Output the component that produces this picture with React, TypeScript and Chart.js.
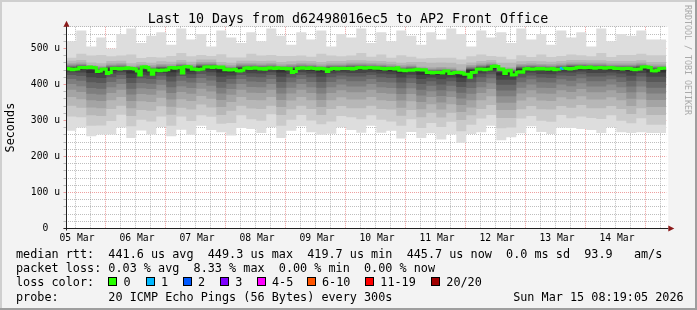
import React, { useEffect, useRef } from "react";
import { Chart, registerables } from "chart.js";

Chart.register(...registerables);

// ---------- text ----------
const titleText = "Last 10 Days from d62498016ec5 to AP2 Front Office";
const yAxisTitle = "Seconds";
const creditText = "RRDTOOL / TOBI OETIKER";
const statsLine1 = "median rtt:  441.6 us avg  449.3 us max  419.7 us min  445.7 us now  0.0 ms sd  93.9   am/s";
const statsLine2 = "packet loss: 0.03 % avg  8.33 % max  0.00 % min  0.00 % now";
const lossColorTitle = "loss color:";
const probeLine = "probe:       20 ICMP Echo Pings (56 Bytes) every 300s";
const dateText = "Sun Mar 15 08:19:05 2026";

// ---------- axes ----------
// x values are hours since graph start (05 Mar 08:19:05), 10 days shown
const spanHours = 240;
const firstNoonHour = 3.682; // 05 Mar 12:00
const dayLabels = ["05 Mar", "06 Mar", "07 Mar", "08 Mar", "09 Mar", "10 Mar", "11 Mar", "12 Mar", "13 Mar", "14 Mar"];
const yMax = 560; // microseconds
const yGridStep = 20;
const yLabelValues = [0, 100, 200, 300, 400, 500];
const yLabelTexts = ["0  ", "100 u", "200 u", "300 u", "400 u", "500 u"];

// ---------- loss colours ----------
const lossLabels = ["0", "1", "2", "3", "4-5", "6-10", "11-19", "20/20"];
const lossColors = ["#26ff00", "#00b8ff", "#0059ff", "#7e00ff", "#ff00ff", "#ff5500", "#ff0000", "#a00000"];
const lossHours = [198];
const lossCountAtHour = [1];

// ---------- smoke colours (outer band -> inner band) ----------
const smokeColors = ["#dddddd", "#cacaca", "#b7b7b7", "#a4a4a4", "#919191", "#7e7e7e", "#6b6b6b", "#585858", "#454545", "#323232"];

// ---------- median rtt, hourly (us) ----------
const medianRtt = [
  443, 444, 443, 441, 442, 443,
  447, 447, 446, 447, 448, 447, 446,
  436, 437, 442, 443, 430, 433,
  444, 445, 444, 443, 445, 444, 446, 445, 444, 443,
  437, 426, 448, 449, 447, 440, 428,
  440, 439, 438, 440, 439, 441,
  446, 447, 445, 446, 447, 432,
  449, 450, 448, 442, 443, 441, 442, 443,
  448, 449, 448, 447, 449, 448, 447, 448,
  441, 442, 440, 441, 442, 438, 437, 439,
  445, 446, 444, 445, 446, 445,
  443, 444, 442,
  445, 446, 445, 444, 446, 445, 444, 445, 443, 444,
  433, 436,
  444, 445, 446, 445, 444, 446, 445, 444, 443, 445, 444, 443,
  436, 442, 444, 445, 443, 444, 445, 444,
  444, 445, 443, 444,
  446, 447, 446, 445, 446, 447, 446, 445, 446, 445,
  444, 443, 444, 445, 444, 443, 446,
  439, 440, 438, 439, 440, 439,
  441, 442, 441, 440, 441,
  433, 434, 432, 433, 434, 433, 432,
  437, 437, 430, 431,
  433, 434, 433, 432, 428, 428, 420, 433, 434,
  442, 443, 442, 441, 442, 443,
  450, 451, 450, 442, 443, 430, 438, 439, 426, 427, 434, 435, 434,
  443, 444, 443, 442, 443, 444, 443, 444, 443, 442, 443, 444,
  441, 442, 442,
  444, 445, 444, 443, 444, 445,
  447, 448, 447, 446, 447, 448,
  446, 445, 446, 447, 446, 445, 446, 447, 446,
  444, 445, 444, 443, 444, 445, 444,
  442, 441, 442, 443,
  448, 449, 448, 447,
  438, 437, 439, 444, 445,
];

// ---------- sorted ping values per 4-hour column (us), ping01 = fastest ----------
const pingColumnHours = 4;
const ping01 = [272,271,280,256,261,261,280,251,272,261, 282,256,274,260,285,273,267,258,279,276, 265,281,251,271,284,267,260,263,281,273, 266,285,266,271,250,268,251,264,247,261, 237,262,267,285,245,253,264,284,268,262, 280,279,276,273,265,281,267,265,267,265];
const ping02 = [303,311,309,285,286,298,316,284,302,297, 311,285,311,298,314,310,291,293,314,303, 299,317,285,302,315,300,289,297,312,309, 303,314,302,297,285,303,279,293,282,296, 270,288,305,315,278,280,305,312,299,296, 315,306,311,307,304,314,299,292,306,288];
const ping03 = [331,341,335,314,312,332,341,312,329,327, 339,316,335,330,344,336,315,327,341,333, 332,341,315,331,341,332,315,332,340,334, 334,341,332,330,313,329,309,321,308,321, 301,314,332,343,307,307,331,340,331,330, 340,335,343,334,334,340,332,318,334,315];
const ping04 = [355,365,359,336,334,356,365,334,353,351, 363,338,359,354,368,360,337,351,365,357, 356,365,337,355,365,356,337,356,364,358, 358,365,356,354,335,353,331,345,330,345, 323,336,356,367,329,329,355,364,355,354, 364,359,367,358,358,364,356,340,358,337];
const ping05 = [375,385,379,356,354,376,385,354,373,371, 383,358,379,374,388,380,357,371,385,377, 376,385,357,375,385,376,357,376,384,378, 378,385,376,374,355,373,351,365,350,365, 343,356,376,387,349,349,375,384,375,374, 384,379,387,378,378,384,376,360,378,357];
const ping06 = [391,401,395,374,372,392,401,372,389,387, 399,376,395,390,404,396,375,387,401,393, 392,401,375,391,401,392,375,392,400,394, 394,401,392,390,373,389,369,381,368,381, 361,374,392,403,367,367,391,400,391,390, 400,395,403,394,394,400,392,378,394,375];
const ping07 = [406,415,410,390,388,407,415,388,404,402, 413,392,410,405,418,411,391,402,415,408, 407,415,391,406,415,407,391,407,414,409, 409,415,407,405,389,404,385,396,384,396, 377,390,407,417,383,383,406,414,406,405, 414,410,417,409,409,414,407,394,409,391];
const ping08 = [419,426,423,406,404,420,426,404,417,415, 424,408,423,418,429,424,407,415,426,421, 420,426,407,419,426,420,407,420,425,422, 422,426,420,418,405,417,401,409,400,409, 393,406,420,428,399,399,419,425,419,418, 425,423,428,422,422,425,420,410,422,407];
const ping09 = [429,434,433,420,418,430,434,418,427,425, 432,422,433,428,437,434,421,425,434,431, 430,434,421,429,434,430,421,430,433,432, 432,434,430,428,419,427,415,419,414,419, 407,420,430,436,413,413,429,433,429,428, 433,433,436,432,432,433,430,424,432,421];
const ping10 = [437,440,441,432,430,438,440,430,435,433, 438,434,441,436,443,442,433,433,440,439, 438,440,433,437,440,438,433,438,439,440, 440,440,438,436,431,435,427,427,426,427, 419,432,438,442,425,425,437,439,437,436, 439,441,442,440,440,439,438,436,440,433];
const ping11 = [443,445,447,440,438,444,445,438,441,439, 443,442,447,442,448,448,441,439,445,445, 444,445,441,443,445,444,441,444,444,446, 446,445,444,442,439,441,435,433,434,433, 427,440,444,447,433,433,443,444,443,442, 444,447,447,446,446,444,444,444,446,441];
const ping12 = [445,447,449,442,440,446,447,440,443,441, 445,444,449,444,450,450,443,441,447,447, 446,447,443,445,447,446,443,446,446,448, 448,447,446,444,441,443,437,435,436,435, 429,442,446,449,435,435,445,446,445,444, 446,449,449,448,448,446,446,446,448,443];
const ping13 = [446,448,450,443,441,447,448,441,444,442, 446,445,450,445,451,451,444,442,448,448, 447,448,444,446,448,447,444,447,447,449, 449,448,447,445,442,444,438,436,437,436, 430,443,447,450,436,436,446,447,446,445, 447,450,450,449,449,447,447,447,449,444];
const ping14 = [448,450,452,445,443,449,450,443,446,444, 448,447,452,447,453,453,446,444,450,450, 449,450,446,448,450,449,446,449,449,451, 451,450,449,447,444,446,440,438,439,438, 432,445,449,452,438,438,448,449,448,447, 449,452,452,451,451,449,449,449,451,446];
const ping15 = [450,452,454,447,445,451,452,445,448,446, 450,449,454,449,455,455,448,446,452,452, 451,452,448,450,452,451,448,451,451,453, 453,452,451,449,446,448,442,440,441,440, 434,447,451,454,440,440,450,451,450,449, 451,454,454,453,453,451,451,451,453,448];
const ping16 = [453,455,457,450,448,454,455,448,451,449, 453,452,457,452,458,458,451,449,455,455, 454,455,451,453,455,454,451,454,454,456, 456,455,454,452,449,451,445,443,444,443, 437,450,454,457,443,443,453,454,453,452, 454,457,457,456,456,454,454,454,456,451];
const ping17 = [457,459,461,454,452,458,459,452,455,453, 457,456,461,456,462,462,455,453,459,459, 458,459,455,457,459,458,455,458,458,460, 460,459,458,456,453,455,449,447,448,447, 441,454,458,461,447,447,457,458,457,456, 458,461,461,460,460,458,458,458,460,455];
const ping18 = [464,466,468,461,459,465,466,459,462,460, 464,463,468,463,469,469,462,460,466,466, 465,466,462,464,466,465,462,465,465,467, 467,466,465,463,460,462,462,460,461,460, 456,461,465,468,460,460,464,465,464,463, 465,468,468,467,467,465,465,465,467,462];
const ping19 = [479,474,485,480,482,478,480,483,473,476, 475,479,487,478,482,479,484,475,475,485, 480,482,479,479,480,477,485,480,478,480, 487,477,483,474,481,477,472,473,474,474, 469,478,483,479,477,470,481,476,483,476, 479,483,481,478,487,476,482,482,485,481];
const ping20 = [545,520,550,505,530,500,540,555,515,535, 545,510,555,525,540,505,550,530,515,545, 520,555,535,510,545,525,550,505,540,530, 555,515,545,520,550,535,510,545,525,555, 540,505,550,530,545,515,555,525,540,510, 550,530,545,505,555,520,540,535,550,525];

const MONO = '"DejaVu Sans Mono", "Liberation Mono", monospace';

function stepPoints(values: number[], stepHours: number) {
  const pts = values.map((v, i) => ({ x: i * stepHours, y: v }));
  pts.push({ x: values.length * stepHours, y: values[values.length - 1] });
  return pts;
}

const MAJOR_GRID = "rgba(224,80,80,0.55)";
const MINOR_GRID = "rgba(110,110,110,0.45)";

const decorPlugin = {
  id: "rrdDecor",
  beforeDraw(chart: any) {
    const { ctx, width, height, chartArea: a } = chart;
    ctx.save();
    ctx.fillStyle = "#f3f3f3";
    ctx.fillRect(0, 0, width, height);
    ctx.fillStyle = "#cfcfcf";
    ctx.fillRect(0, 0, width, 2);
    ctx.fillRect(0, 0, 2, height);
    ctx.fillStyle = "#9e9e9e";
    ctx.fillRect(0, height - 2, width, 2);
    ctx.fillRect(width - 2, 0, 2, height);
    ctx.fillStyle = "#ffffff";
    ctx.fillRect(Math.floor(a.left), a.top, a.right - Math.floor(a.left) + 2, a.bottom - a.top);
    ctx.restore();
  },
  afterDraw(chart: any) {
    const { ctx, chartArea: a } = chart;
    const xs = chart.scales.x;
    const ys = chart.scales.y;
    ctx.save();

    const axX = Math.floor(a.left) + 0.5;
    const axY = Math.floor(a.bottom) + 0.5;

    // small y ticks left of the axis
    for (let v = 0; v <= yMax; v += yGridStep) {
      const py = Math.round(ys.getPixelForValue(v) - 0.5) + 0.5;
      ctx.strokeStyle = v % 100 === 0 ? MAJOR_GRID : MINOR_GRID;
      ctx.lineWidth = 1;
      ctx.beginPath();
      ctx.moveTo(axX - 3, py);
      ctx.lineTo(axX, py);
      ctx.stroke();
    }

    // axes
    ctx.strokeStyle = "#202020";
    ctx.lineWidth = 1;
    ctx.beginPath();
    ctx.moveTo(axX, axY + 2);
    ctx.lineTo(axX, a.top - 2);
    ctx.moveTo(axX - 3, axY);
    ctx.lineTo(a.right + 2, axY);
    ctx.stroke();

    // arrows
    ctx.fillStyle = "#8b1a1a";
    ctx.beginPath();
    ctx.moveTo(axX, a.top - 6);
    ctx.lineTo(axX - 3, a.top);
    ctx.lineTo(axX + 3, a.top);
    ctx.closePath();
    ctx.fill();
    ctx.beginPath();
    ctx.moveTo(a.right + 8, axY);
    ctx.lineTo(a.right + 2, axY - 3);
    ctx.lineTo(a.right + 2, axY + 3);
    ctx.closePath();
    ctx.fill();

    // y labels
    ctx.fillStyle = "#000000";
    ctx.font = `9.7px ${MONO}`;
    ctx.textAlign = "right";
    ctx.textBaseline = "middle";
    yLabelValues.forEach((v, i) => {
      ctx.fillText(yLabelTexts[i], 60, ys.getPixelForValue(v) + 0.3);
    });

    // x labels
    ctx.textAlign = "center";
    ctx.textBaseline = "alphabetic";
    dayLabels.forEach((lab, k) => {
      ctx.fillText(lab, xs.getPixelForValue(firstNoonHour + 24 * k) + 1.5, 241);
    });

    // title
    ctx.font = `13.3px ${MONO}`;
    ctx.textAlign = "center";
    ctx.fillText(titleText, 348, 23.3);

    // y axis title
    ctx.save();
    ctx.font = `11.8px ${MONO}`;
    ctx.translate(11, (a.top + a.bottom) / 2);
    ctx.rotate(-Math.PI / 2);
    ctx.textAlign = "center";
    ctx.textBaseline = "middle";
    ctx.fillText(yAxisTitle, 0, 0);
    ctx.restore();

    // credit
    ctx.save();
    ctx.font = `8.3px ${MONO}`;
    ctx.fillStyle = "#aaaaaa";
    ctx.translate(687, 5);
    ctx.rotate(Math.PI / 2);
    ctx.textAlign = "left";
    ctx.textBaseline = "middle";
    ctx.fillText(creditText, 0, 0);
    ctx.restore();

    // legend rows
    ctx.font = `11.8px ${MONO}`;
    ctx.textAlign = "left";
    ctx.textBaseline = "alphabetic";
    ctx.fillStyle = "#000000";
    const cw = ctx.measureText("0").width;
    ctx.fillText(statsLine1, 16, 257.7);
    ctx.fillText(statsLine2, 16, 272);
    ctx.fillText(lossColorTitle, 16, 286.3);
    ctx.fillText(probeLine, 16, 300.6);
    ctx.fillText(dateText, 16 + 70 * cw, 300.6);

    const boxX = [108.3, 145.7, 182.7, 220, 256.7, 306.7, 365, 431];
    lossLabels.forEach((lab, i) => {
      const bx = Math.round(boxX[i]);
      ctx.fillStyle = lossColors[i];
      ctx.fillRect(bx, 277, 9, 9);
      ctx.strokeStyle = "#000000";
      ctx.lineWidth = 1;
      ctx.strokeRect(bx + 0.5, 277.5, 8, 8);
      ctx.fillStyle = "#000000";
      ctx.fillText(lab, boxX[i] + 15.3, 286.3);
    });

    ctx.restore();
  },
};

export default function App() {
  const canvasRef = useRef<HTMLCanvasElement | null>(null);

  useEffect(() => {
    document.body.style.margin = "0";
    const canvas = canvasRef.current;
    if (!canvas) return;

    const pings = [ping01, ping02, ping03, ping04, ping05, ping06, ping07, ping08, ping09, ping10,
      ping11, ping12, ping13, ping14, ping15, ping16, ping17, ping18, ping19, ping20];

    const datasets: any[] = [];
    for (let b = 1; b <= 10; b++) {
      const lo = pings[b - 1];
      const hi = pings[20 - b];
      datasets.push({
        data: stepPoints(lo, pingColumnHours),
        stepped: "after",
        borderWidth: 0,
        borderColor: "rgba(0,0,0,0)",
        pointRadius: 0,
        fill: false,
        order: 100 - b,
      });
      datasets.push({
        data: stepPoints(hi, pingColumnHours),
        stepped: "after",
        borderWidth: 0,
        borderColor: "rgba(0,0,0,0)",
        pointRadius: 0,
        fill: "-1",
        backgroundColor: smokeColors[b - 1],
        order: 100 - b,
      });
    }
    datasets.push({
      data: stepPoints(medianRtt, 1),
      stepped: "after",
      borderColor: lossColors[0],
      borderWidth: 3,
      borderCapStyle: "butt",
      borderJoinStyle: "miter",
      pointRadius: 0,
      fill: false,
      order: 0,
      segment: {
        borderColor: (c: any) => {
          const k = lossHours.indexOf(c.p0DataIndex);
          return k >= 0 ? lossColors[lossCountAtHour[k]] : undefined;
        },
      },
    });

    const xTickValues: { value: number; major: boolean }[] = [];
    for (let k = 0; firstNoonHour + 6 * k <= spanHours; k++) {
      xTickValues.push({ value: firstNoonHour + 6 * k, major: k % 4 === 2 });
    }
    const yTickValues: { value: number; major: boolean }[] = [];
    for (let v = 0; v <= yMax; v += yGridStep) yTickValues.push({ value: v, major: v % 100 === 0 });

    const gridColor = (c: any) => (c.tick && c.tick.major ? MAJOR_GRID : MINOR_GRID);

    const chart = new Chart(canvas, {
      type: "line",
      data: { datasets },
      options: {
        responsive: false,
        animation: false,
        devicePixelRatio: 1,
        events: [],
        layout: { padding: { left: 66.3, right: 30.7, top: 26.8, bottom: 81.6 } },
        plugins: {
          legend: { display: false },
          title: { display: false },
          tooltip: { enabled: false },
        },
        scales: {
          x: {
            type: "linear",
            min: 0,
            max: spanHours,
            z: 1,
            afterBuildTicks: (s: any) => {
              s.ticks = xTickValues.map((t) => ({ value: t.value, major: t.major }));
            },
            ticks: { display: false, autoSkip: false },
            grid: { drawTicks: false, lineWidth: 1, color: gridColor },
            border: { display: false, dash: [1, 1] },
          },
          y: {
            type: "linear",
            min: 0,
            max: yMax,
            z: 1,
            afterBuildTicks: (s: any) => {
              s.ticks = yTickValues.map((t) => ({ value: t.value, major: t.major }));
            },
            ticks: { display: false, autoSkip: false },
            grid: { drawTicks: false, lineWidth: 1, color: gridColor },
            border: { display: false, dash: [1, 1] },
          },
        },
      } as any,
      plugins: [decorPlugin],
    });

    return () => chart.destroy();
  }, []);

  return (
    <div style={{ position: "absolute", left: 0, top: 0, width: 697, height: 310 }}>
      <canvas ref={canvasRef} width={697} height={310} style={{ display: "block", width: 697, height: 310 }} />
    </div>
  );
}
